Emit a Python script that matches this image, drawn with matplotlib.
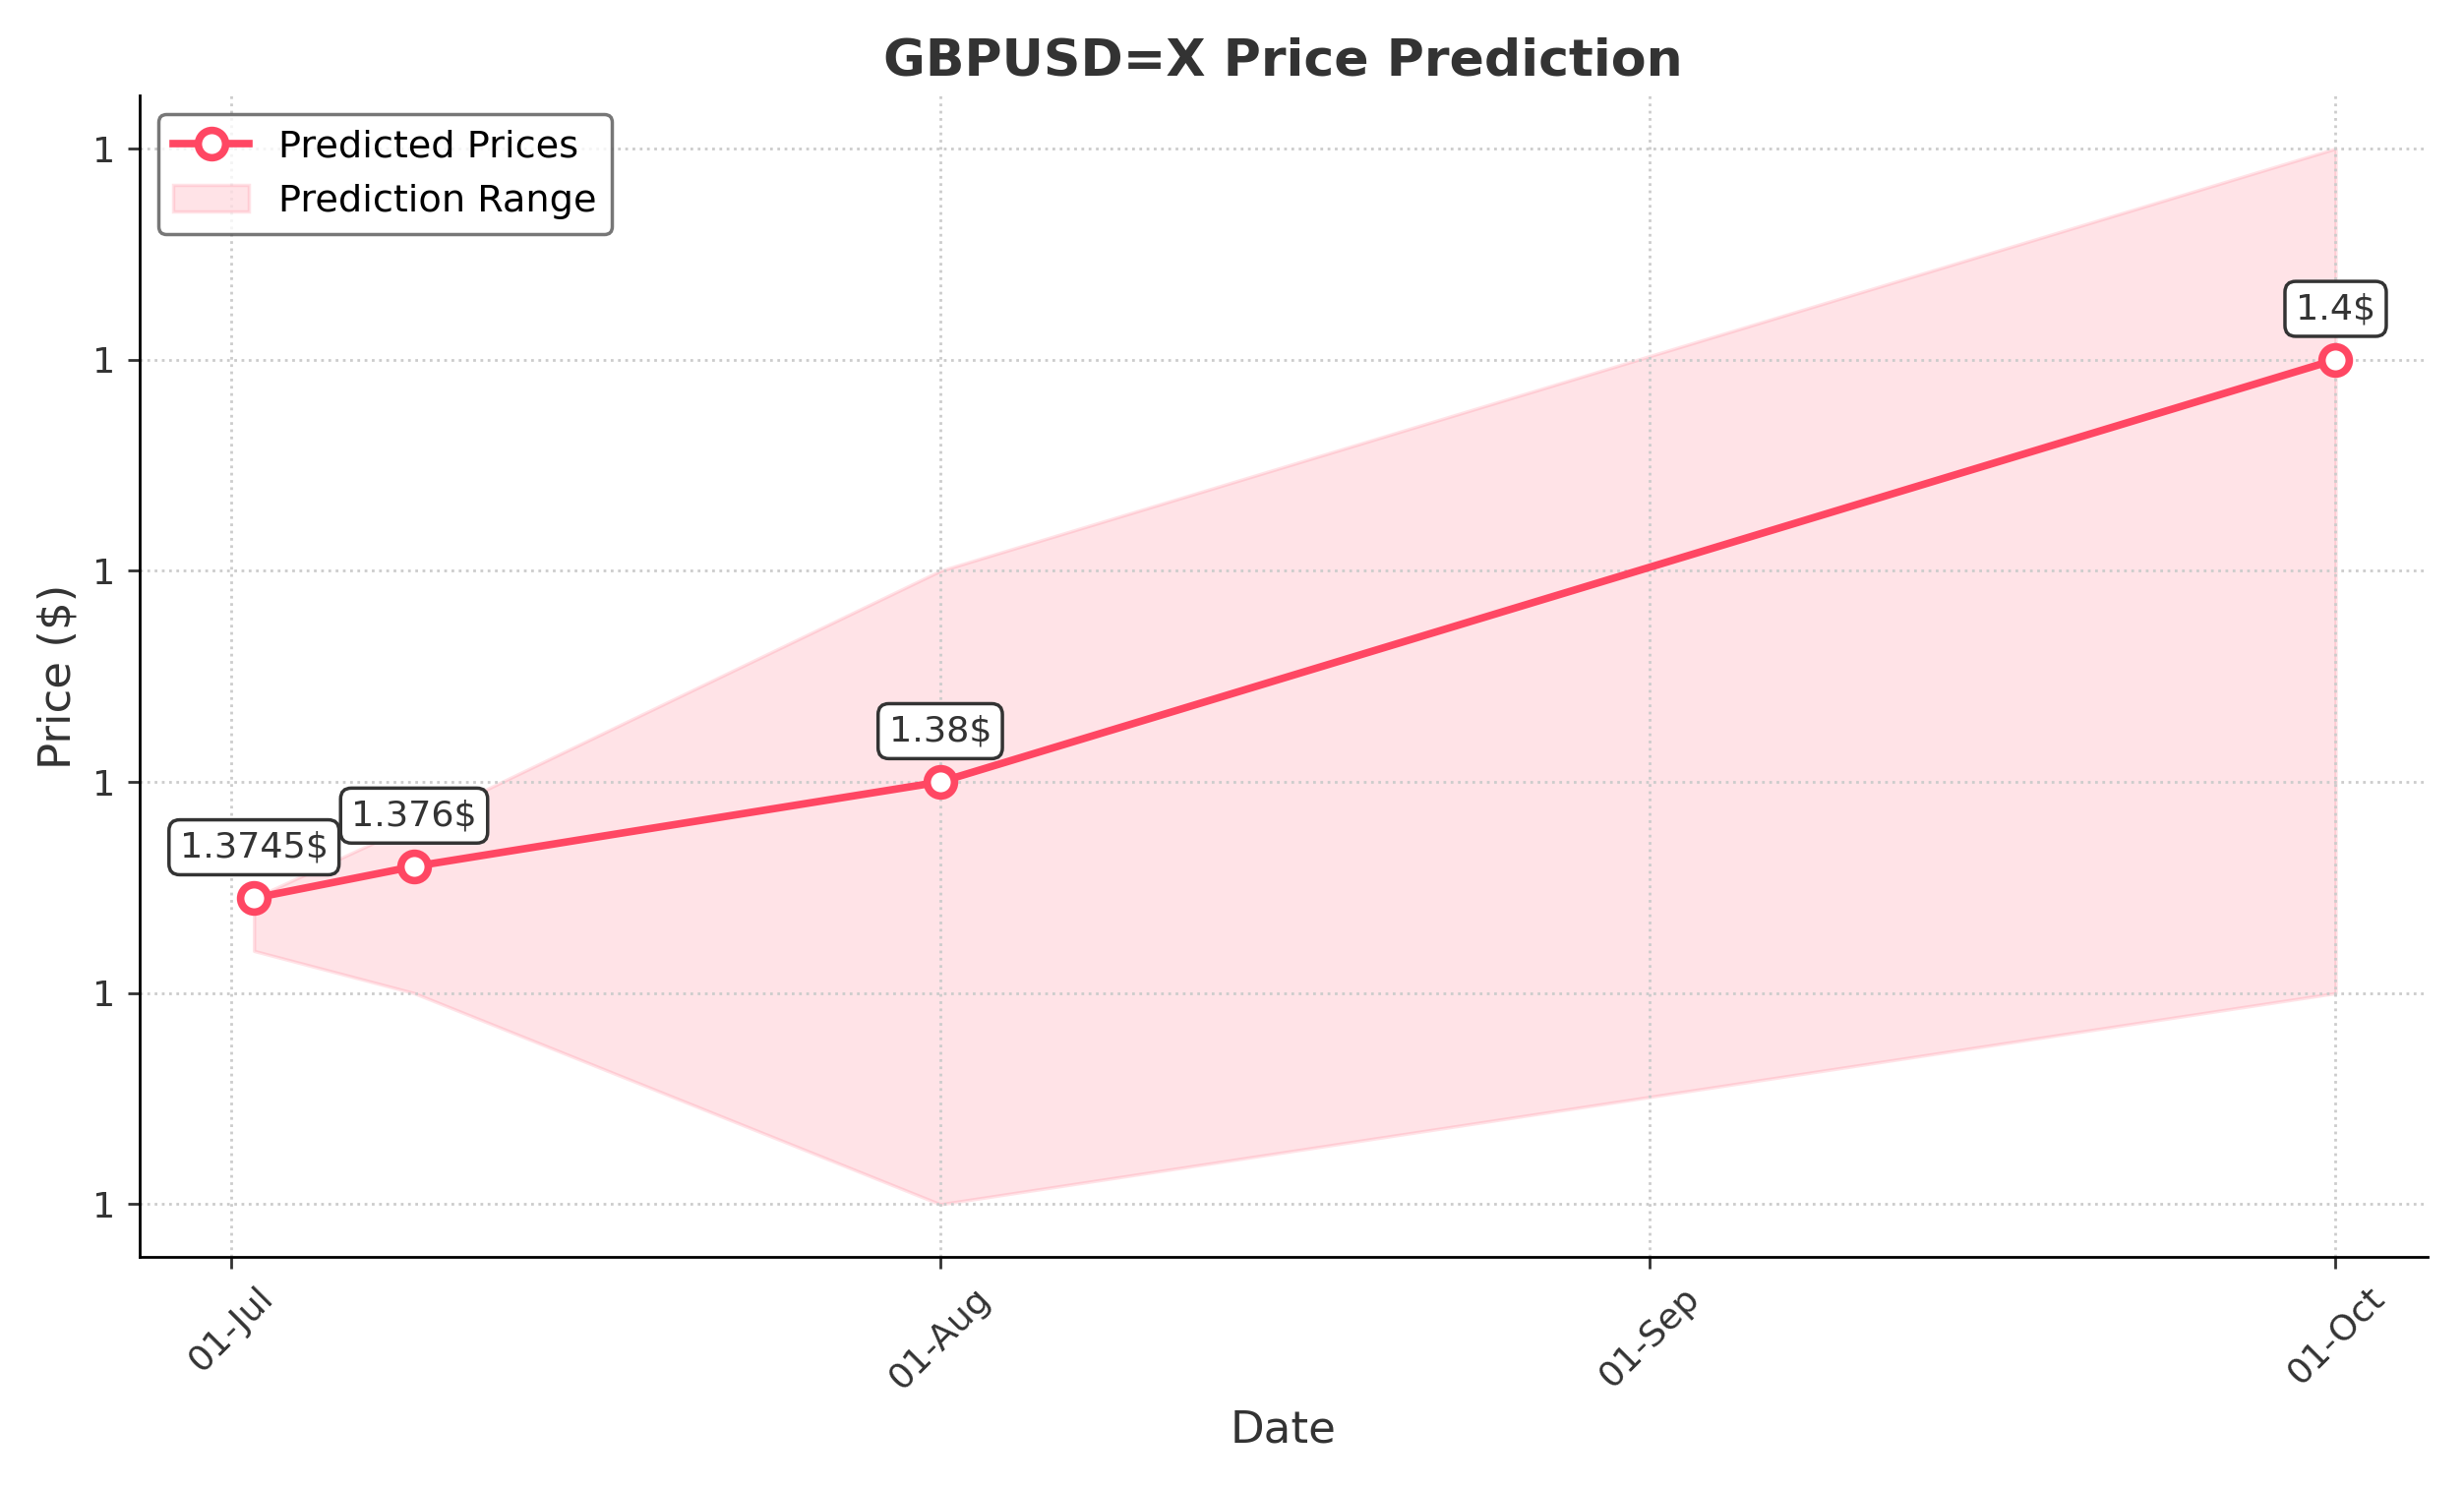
import matplotlib
matplotlib.use("Agg")
import matplotlib.pyplot as plt
import matplotlib.dates as mdates
from matplotlib.ticker import FormatStrFormatter
import pandas as pd

dates = pd.to_datetime(["2025-07-02", "2025-07-09", "2025-08-01", "2025-10-01"])
predicted = [1.3745, 1.376, 1.38, 1.4]
labels = ["1.3745$", "1.376$", "1.38$", "1.4$"]
lower = [1.372, 1.370, 1.360, 1.370]
upper = [1.3745, 1.378, 1.390, 1.410]

color = "#ff4763"
fig, ax = plt.subplots(figsize=(10.02, 6.052), dpi=250)
ax.fill_between(dates, lower, upper, color=color, alpha=0.15, label="Prediction Range")
ax.plot(dates, predicted, color=color, lw=2.2, marker="o", ms=8, mfc="white",
        mew=2.2, label="Predicted Prices")
for d, v, t in zip(dates, predicted, labels):
    ax.annotate(t, (d, v), textcoords="offset points", xytext=(0, 12), ha="center",
                fontsize=10.5, color="#333333",
                bbox=dict(boxstyle="round,pad=0.3", fc="white", ec="#333333", lw=1))
ax.xaxis.set_major_locator(mdates.MonthLocator())
ax.xaxis.set_major_formatter(mdates.DateFormatter("%d-%b"))
ax.set_xlim(pd.Timestamp("2025-06-27"), pd.Timestamp("2025-10-05"))
ax.set_ylim(1.3575, 1.4125)
ax.set_yticks([1.36, 1.37, 1.38, 1.39, 1.40, 1.41])
ax.yaxis.set_major_formatter(FormatStrFormatter("%.0f"))
ax.tick_params(labelsize=10.5, colors="#333333")
plt.setp(ax.get_xticklabels(), rotation=45)
ax.grid(True, ls=":", color="#cccccc")
for s in ["top", "right"]:
    ax.spines[s].set_visible(False)
ax.set_title("GBPUSD=X Price Prediction", fontsize=15, fontweight="bold", color="#333333")
ax.set_xlabel("Date", fontsize=13, color="#333333")
ax.set_ylabel("Price ($)", fontsize=13, color="#333333")
h, l = ax.get_legend_handles_labels()
ax.legend(h[::-1], l[::-1], loc="upper left", edgecolor="#555555", fontsize=11)
fig.tight_layout()
fig.savefig("out.png")
